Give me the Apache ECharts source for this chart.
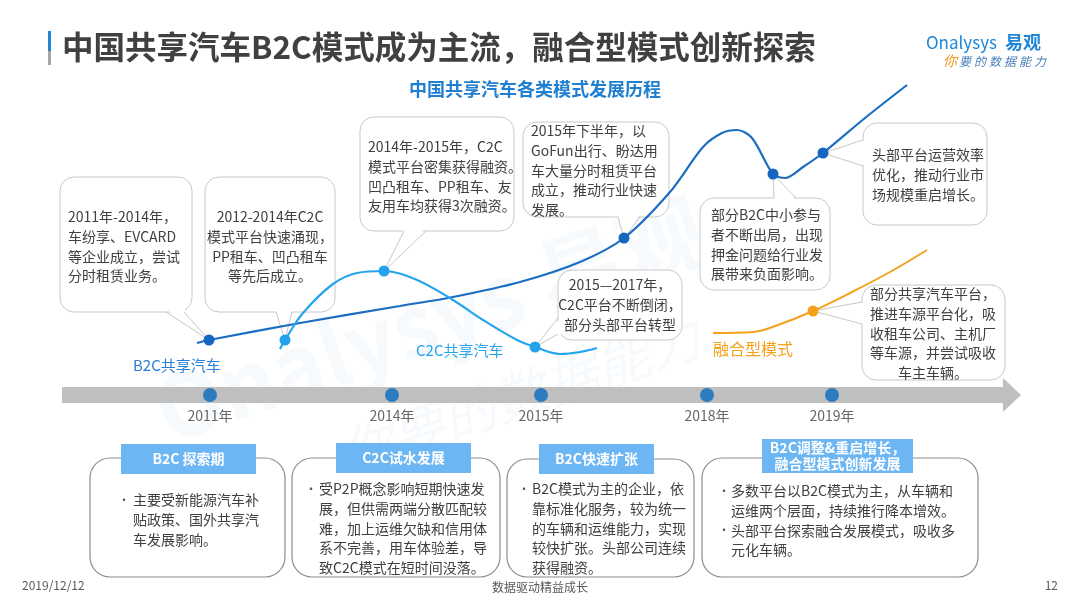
<!DOCTYPE html>
<html>
<head>
<meta charset="utf-8">
<script src="https://cdn.jsdelivr.net/npm/echarts@6/dist/echarts.min.js"></script>
<style>
html,body{margin:0;padding:0;background:#fff;}
#main{width:1080px;height:608px;}
</style>
</head>
<body>
<div id="main"></div>
<script>
// timeline years and where they sit on the arrow
var years = ['2011年', '2014年', '2015年', '2018年', '2019年'];
var yearPos = [210, 392, 541, 707, 832];

// curves (x, y in slide units, y grows downward)
var b2cCurve = [[197,343],[209,340],[300,323],[400,306],[453,297],[520,282],[580,262],[624,238],[670,192],[703,147],[722,133],[737,130],[752,138],[773,174],[785,178],[803,167],[823,153],[865,118],[907,85]];
var b2cDots = [1, 7, 13, 16];
var c2cCurve = [[280,349],[285,340],[303,313],[333,284],[357,273],[384,271],[417,280],[453,300],[483,320],[517,340],[535,347],[560,354],[580,352],[597,348]];
var c2cDots = [1, 5, 10];
var mixCurve = [[713,333],[753,332],[778,325],[813,311],[850,293],[890,272],[927,250]];
var mixDots = [3];

var FONT = "'Noto Sans CJK SC', 'Microsoft YaHei', sans-serif";

function curveData(pts, dots) {
    return pts.map(function (p, i) {
        if (dots.indexOf(i) >= 0) return {value: p, symbol: 'circle', symbolSize: 11};
        return {value: p, symbol: 'none'};
    });
}

var myChart = echarts.init(document.getElementById('main'));
myChart.setOption({
    animation: false,
    grid: {left: 0, right: 0, top: 0, bottom: 0},
    xAxis: {type: 'value', min: 0, max: 1080, show: false},
    yAxis: {type: 'value', min: 0, max: 608, inverse: true, show: false},
    series: [
        {
            name: 'B2C共享汽车', type: 'line', smooth: 0.3, z: 5,
            data: curveData(b2cCurve, b2cDots),
            lineStyle: {color: '#1b6ec2', width: 2.2},
            itemStyle: {color: '#1566c0', borderWidth: 0}
        },
        {
            name: 'C2C共享汽车', type: 'line', smooth: 0.35, z: 5,
            data: curveData(c2cCurve, c2cDots),
            lineStyle: {color: '#27a5ec', width: 2.2},
            itemStyle: {color: '#23a3ec', borderWidth: 0}
        },
        {
            name: '融合型模式', type: 'line', smooth: 0.35, z: 5,
            data: curveData(mixCurve, mixDots),
            lineStyle: {color: '#f5a11c', width: 2},
            itemStyle: {color: '#f5a11c', borderWidth: 0}
        },
        {
            name: 'years', type: 'scatter', z: 6,
            symbolSize: 14,
            itemStyle: {color: '#0a6cc0'},
            data: yearPos.map(function (x, i) { return {value: [x, 395], name: years[i]}; }),
            label: {
                show: true, position: 'bottom', distance: 7,
                formatter: function (p) { return p.name; },
                fontSize: 14, color: '#404040', fontFamily: FONT
            }
        }
    ]
});

// callout bubbles: box, wedge base on its edge, tip = curve dot
var bubbles = [
    {x: 60, y: 177, w: 132, h: 135, base: [[166,312],[184,312]], tip: b2cCurve[1], align: 'left', tx: 68, ty: 217,
        text: '2011年-2014年，\n车纷享、EVCARD\n等企业成立，尝试\n分时租赁业务。'},
    {x: 205, y: 177, w: 130, h: 135, base: [[276,312],[292,312]], tip: c2cCurve[1], align: 'center', tx: 270, ty: 217,
        text: '2012-2014年C2C\n模式平台快速涌现，\nPP租车、凹凸租车\n等先后成立。'},
    {x: 360, y: 117, w: 154, h: 114, base: [[404,231],[426,231]], tip: c2cCurve[5], align: 'left', tx: 368, ty: 147,
        text: '2014年-2015年，C2C\n模式平台密集获得融资。\n凹凸租车、PP租车、友\n友用车均获得3次融资。'},
    {x: 523, y: 122, w: 146, h: 95, base: [[618,217],[640,217]], tip: b2cCurve[7], align: 'left', tx: 531, ty: 131,
        text: '2015年下半年，以\nGoFun出行、盼达用\n车大量分时租赁平台\n成立，推动行业快速\n发展。'},
    {x: 558, y: 270, w: 124, h: 70, base: [[558,318],[558,334]], tip: c2cCurve[10], align: 'center', tx: 620, ty: 285,
        text: '2015—2017年，\nC2C平台不断倒闭，\n部分头部平台转型'},
    {x: 700, y: 198, w: 130, h: 92, base: [[774,198],[796,198]], tip: b2cCurve[13], align: 'left', tx: 711, ty: 215,
        text: '部分B2C中小参与\n者不断出局，出现\n押金问题给行业发\n展带来负面影响。'},
    {x: 863, y: 123, w: 124, h: 102, base: [[863,140],[863,166]], tip: b2cCurve[16], align: 'left', tx: 872, ty: 155,
        text: '头部平台运营效率\n优化，推动行业市\n场规模重启增长。'},
    {x: 862, y: 285, w: 143, h: 95, base: [[862,302],[862,324]], tip: mixCurve[3], align: 'center', tx: 933, ty: 294,
        text: '部分共享汽车平台，\n推进车源平台化，吸\n收租车公司、主机厂\n等车源，并尝试吸收\n车主车辆。'}
];

// stage boxes under the timeline
var stages = [
    {x: 90, y: 458, w: 195, h: 119, hx: 121, hy: 444, hw: 135, hh: 30, head: 'B2C 探索期',
        bx: 118, tx: 133, ty: 500, bullets: [0], text: '主要受新能源汽车补\n贴政策、国外共享汽\n车发展影响。'},
    {x: 292, y: 458, w: 208, h: 119, hx: 336, hy: 443, hw: 135, hh: 30, head: 'C2C试水发展',
        bx: 305, tx: 319, ty: 489, bullets: [0], text: '受P2P概念影响短期快速发\n展，但供需两端分散匹配较\n难，加上运维欠缺和信用体\n系不完善，用车体验差，导\n致C2C模式在短时间没落。'},
    {x: 507, y: 459, w: 187, h: 118, hx: 539, hy: 444, hw: 115, hh: 30, head: 'B2C快速扩张',
        bx: 518, tx: 532, ty: 489, bullets: [0], text: 'B2C模式为主的企业，依\n靠标准化服务，较为统一\n的车辆和运维能力，实现\n较快扩张。头部公司连续\n获得融资。'},
    {x: 702, y: 458, w: 276, h: 119, hx: 762, hy: 439, hw: 151, hh: 34, head: 'B2C调整&重启增长，\n融合型模式创新发展',
        bx: 718, tx: 731, ty: 491, bullets: [0, 2], text: '多数平台以B2C模式为主，从车辆和\n运维两个层面，持续推行降本增效。\n头部平台探索融合发展模式，吸收多\n元化车辆。'}
];

var LH = 19.6;
var g = [];

// watermark
g.push({type: 'text', z: 0, x: 430, y: 320, rotation: 0.33,
    style: {text: 'Onalysys 易观', font: 'bold 86px ' + FONT, fill: 'rgba(40,140,220,0.045)', align: 'center', verticalAlign: 'middle'}});
g.push({type: 'text', z: 0, x: 520, y: 395, rotation: 0.33,
    style: {text: '你要的数据能力', font: 'italic 54px ' + FONT, fill: 'rgba(40,140,220,0.045)', align: 'center', verticalAlign: 'middle'}});

// header
g.push({type: 'rect', z: 1, shape: {x: 48, y: 31, width: 3, height: 20}, style: {fill: '#1f86d8'}});
g.push({type: 'rect', z: 1, shape: {x: 48, y: 51, width: 3, height: 14}, style: {fill: '#a6a6a6'}});
g.push({type: 'text', z: 1, x: 62, y: 47,
    style: {text: '中国共享汽车B2C模式成为主流，融合型模式创新探索', font: 'bold 31.5px ' + FONT, fill: '#404040', align: 'left', verticalAlign: 'middle'}});
g.push({type: 'text', z: 1, x: 535, y: 89,
    style: {text: '中国共享汽车各类模式发展历程', font: 'bold 18px ' + FONT, fill: '#1f7fd0', align: 'center', verticalAlign: 'middle'}});
g.push({type: 'text', z: 1, x: 997, y: 43,
    style: {text: 'Onalysys', font: '17px ' + FONT, fill: '#1f86d8', align: 'right', verticalAlign: 'middle'}});
g.push({type: 'text', z: 1, x: 1005, y: 42,
    style: {text: '易观', font: 'bold 18px ' + FONT, fill: '#1f86d8', align: 'left', verticalAlign: 'middle'}});
var slogan = '你要的数据能力';
for (var i = 0; i < slogan.length; i++) {
    g.push({type: 'text', z: 1, x: 950 + i * 15, y: 61,
        style: {text: slogan[i], font: (i === 0 ? 'italic 14px ' : 'italic 12px ') + FONT,
            fill: i === 0 ? '#f39a1e' : '#4a7fb8', align: 'center', verticalAlign: 'middle'}});
}

// timeline arrow
g.push({type: 'rect', z: 1, shape: {x: 62, y: 387, width: 942, height: 16}, style: {fill: '#bfbfbf'}});
g.push({type: 'polygon', z: 1, shape: {points: [[1003,378],[1021,395],[1003,412]]}, style: {fill: '#bfbfbf'}});

// curve names
g.push({type: 'text', z: 1, x: 133, y: 365,
    style: {text: 'B2C共享汽车', font: '15px ' + FONT, fill: '#2b7fd4', align: 'left', verticalAlign: 'middle'}});
g.push({type: 'text', z: 1, x: 416, y: 350,
    style: {text: 'C2C共享汽车', font: '15px ' + FONT, fill: '#27a5ec', align: 'left', verticalAlign: 'middle'}});
g.push({type: 'text', z: 1, x: 713, y: 349,
    style: {text: '融合型模式', font: '16px ' + FONT, fill: '#f5a11c', align: 'left', verticalAlign: 'middle'}});

bubbles.forEach(function (b) {
    var tip = myChart.convertToPixel({gridIndex: 0}, b.tip);
    var a = b.base[0], c = b.base[1];
    // push the wedge base a little inside the box so it hides the border
    function inside(p) {
        var dx = p[0] === b.x ? 3 : (p[0] === b.x + b.w ? -3 : 0);
        var dy = p[1] === b.y ? 3 : (p[1] === b.y + b.h ? -3 : 0);
        return [p[0] + dx, p[1] + dy];
    }
    g.push({type: 'rect', z: 1, shape: {x: b.x, y: b.y, width: b.w, height: b.h, r: 14},
        style: {fill: '#fff', stroke: '#c8c8c8', lineWidth: 1}});
    g.push({type: 'polygon', z: 1, shape: {points: [inside(a), tip, inside(c)]},
        style: {fill: '#fff', stroke: null}});
    g.push({type: 'polyline', z: 1, shape: {points: [a, tip, c]},
        style: {stroke: '#c8c8c8', lineWidth: 1, fill: null}});
    g.push({type: 'text', z: 1, x: b.tx, y: b.ty - LH / 2,
        style: {text: b.text, font: '14px ' + FONT, fill: '#404040', align: b.align, verticalAlign: 'top', lineHeight: LH}});
});

stages.forEach(function (s) {
    g.push({type: 'rect', z: 1, shape: {x: s.x, y: s.y, width: s.w, height: s.h, r: 20},
        style: {fill: '#fff', stroke: '#8c8c8c', lineWidth: 1.2}});
    g.push({type: 'rect', z: 1, shape: {x: s.hx, y: s.hy, width: s.hw, height: s.hh},
        style: {fill: '#6db6f4'}});
    g.push({type: 'text', z: 1, x: s.hx + s.hw / 2, y: s.hy + s.hh / 2,
        style: {text: s.head, font: 'bold 14px ' + FONT, fill: '#fff', align: 'center', verticalAlign: 'middle', lineHeight: 16}});
    g.push({type: 'text', z: 1, x: s.tx, y: s.ty - LH / 2,
        style: {text: s.text, font: '14px ' + FONT, fill: '#404040', align: 'left', verticalAlign: 'top', lineHeight: LH}});
    s.bullets.forEach(function (k) {
        g.push({type: 'text', z: 1, x: s.bx, y: s.ty + k * LH,
            style: {text: '•', font: '12px ' + FONT, fill: '#595959', align: 'left', verticalAlign: 'middle'}});
    });
});

// footer
g.push({type: 'text', z: 1, x: 22, y: 585,
    style: {text: '2019/12/12', font: '12px ' + FONT, fill: '#595959', align: 'left', verticalAlign: 'middle'}});
g.push({type: 'text', z: 1, x: 540, y: 587,
    style: {text: '数据驱动精益成长', font: '12px ' + FONT, fill: '#595959', align: 'center', verticalAlign: 'middle'}});
g.push({type: 'text', z: 1, x: 1058, y: 585,
    style: {text: '12', font: '12px ' + FONT, fill: '#595959', align: 'right', verticalAlign: 'middle'}});

myChart.setOption({graphic: {elements: g}});
</script>
</body>
</html>
